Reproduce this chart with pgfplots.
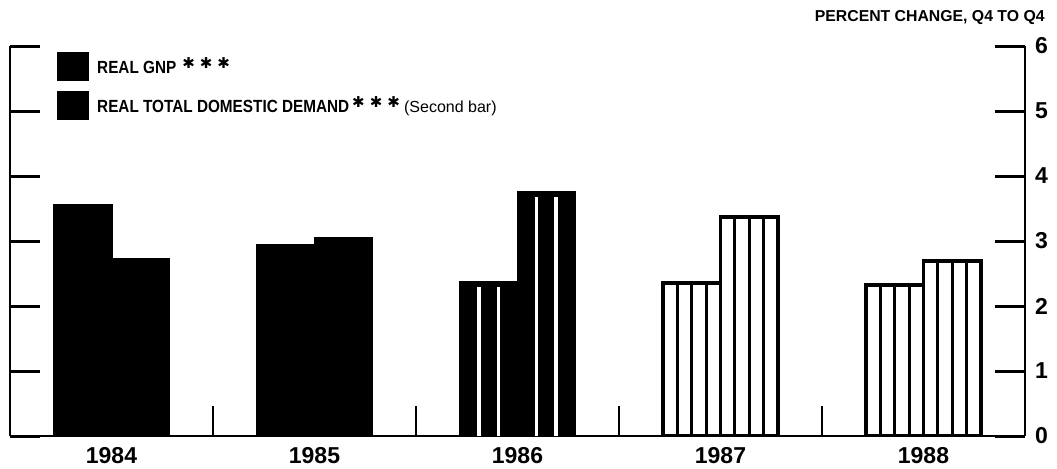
\documentclass[border=0pt]{standalone}
\usepackage{fontspec}
\setmainfont{Liberation Sans}
\newfontfamily\cf{Liberation Sans}[FakeStretch=0.87]
\newfontfamily\djv{DejaVu Sans}
\usepackage{pgfplots}
\usepackage{pgfplotstable}
\pgfplotsset{compat=1.18}

% solid bars (actual)
\pgfplotstableread{
x gnp ddd
0 3.55 2.72
1 2.94 3.05
}\solid
% dark striped bars
\pgfplotstableread{
x gnp ddd
2 2.37 3.75
}\dark
% light striped bars (projections)
\pgfplotstableread{
x gnp ddd
3 2.35 3.37
4 2.32 2.69
}\light

\newcommand{\stars}{{\djv\bfseries\fontsize{7.5}{7.5}\selectfont\raisebox{2.5pt}{✱\hspace{2.5pt}✱\hspace{2.5pt}✱}}}

\begin{document}
\begin{tikzpicture}
\begin{axis}[
  name=ax,
  at={(0,0)}, anchor=south west,
  scale only axis, width=507.5pt, height=195pt,
  xmin=-0.5, xmax=4.5, ymin=0, ymax=6,
  axis x line*=bottom, axis y line*=box,
  axis line style={line width=1.4pt, -},
  every outer x axis line/.append style={-},
  every outer y axis line/.append style={-},
  yticklabel pos=right, ytick pos=both,
  ytick={0,1,2,3,4,5,6},
  tick align=inside, major tick length=15pt,
  ytick style={line width=1.5pt, black},
  yticklabel style={xshift=1.5pt},
  xtick={0.5,1.5,2.5,3.5}, xticklabels={},
  xtick style={line width=1pt, black},
  extra x ticks={0,1,2,3,4},
  extra x tick labels={1984,1985,1986,1987,1988},
  extra x tick style={major tick length=0pt, xticklabel style={yshift=-2pt}},
  /pgf/number format/assume math mode=true,
  ticklabel style={font=\bfseries\fontsize{11.5}{12}\selectfont},
  legend image code/.code={\fill[black] (0pt,-7pt) rectangle (15.5pt,7pt);},
  legend style={at={(0,1)}, anchor=north west, xshift=23.5pt, yshift=-3pt,
    draw=none, fill=none, inner sep=0pt, row sep=5pt,
    font=\cf\bfseries\fontsize{8.8}{10}\selectfont},
  legend cell align=left,
]
% solid bars
\addplot[ybar, bar width=0.283, bar shift=-0.1415, fill=black, draw=black, line width=1pt, forget plot] table[x=x,y=gnp]{\solid};
\addplot[ybar, bar width=0.283, bar shift=0.1415, fill=black, draw=black, line width=1pt, forget plot] table[x=x,y=ddd]{\solid};
% dark striped bars
\addplot[ybar, bar width=0.283, bar shift=-0.1415, fill=black, draw=black, line width=1pt, forget plot] table[x=x,y=gnp]{\dark};
\addplot[ybar, bar width=0.283, bar shift=0.1415, fill=black, draw=black, line width=1pt, forget plot] table[x=x,y=ddd]{\dark};
\addplot[ycomb, white, line width=1.8pt, mark=none, forget plot] table[x expr=\thisrow{x}-0.1887, y expr=\thisrow{gnp}-0.08]{\dark};
\addplot[ycomb, white, line width=1.8pt, mark=none, forget plot] table[x expr=\thisrow{x}-0.0943, y expr=\thisrow{gnp}-0.08]{\dark};
\addplot[ycomb, white, line width=1.8pt, mark=none, forget plot] table[x expr=\thisrow{x}+0.0943, y expr=\thisrow{ddd}-0.08]{\dark};
\addplot[ycomb, white, line width=1.8pt, mark=none, forget plot] table[x expr=\thisrow{x}+0.1887, y expr=\thisrow{ddd}-0.08]{\dark};
% light striped bars
\addplot[ybar, bar width=0.283, bar shift=-0.1415, fill=white, draw=black, line width=1.8pt, forget plot] table[x=x,y=gnp]{\light};
\addplot[ybar, bar width=0.283, bar shift=0.1415, fill=white, draw=black, line width=1.8pt, forget plot] table[x=x,y=ddd]{\light};
\addplot[ycomb, black, line width=1.6pt, mark=none, forget plot] table[x expr=\thisrow{x}-0.2123, y=gnp]{\light};
\addplot[ycomb, black, line width=1.6pt, mark=none, forget plot] table[x expr=\thisrow{x}-0.1415, y=gnp]{\light};
\addplot[ycomb, black, line width=1.6pt, mark=none, forget plot] table[x expr=\thisrow{x}-0.0708, y=gnp]{\light};
\addplot[ycomb, black, line width=1.6pt, mark=none, forget plot] table[x expr=\thisrow{x}+0.0708, y=ddd]{\light};
\addplot[ycomb, black, line width=1.6pt, mark=none, forget plot] table[x expr=\thisrow{x}+0.1415, y=ddd]{\light};
\addplot[ycomb, black, line width=1.6pt, mark=none, forget plot] table[x expr=\thisrow{x}+0.2123, y=ddd]{\light};
% legend
\addlegendimage{black}
\addlegendentry{\hspace{2pt}REAL GNP\hspace{3pt}\stars}
\addlegendimage{black}
\addlegendentry{\hspace{2pt}REAL TOTAL DOMESTIC DEMAND\,\stars\ {\normalfont\fontsize{8}{10}\selectfont(Second bar)}}
\end{axis}
\node[anchor=base east, inner sep=0pt, font=\bfseries\fontsize{7.9}{9}\selectfont]
  at ([xshift=10pt, yshift=12.5pt]ax.north east) {PERCENT CHANGE, Q4 TO Q4};
\pgfresetboundingbox
\path[use as bounding box] (-5pt,-16pt) rectangle (523.5pt,218pt);
\end{tikzpicture}
\end{document}
